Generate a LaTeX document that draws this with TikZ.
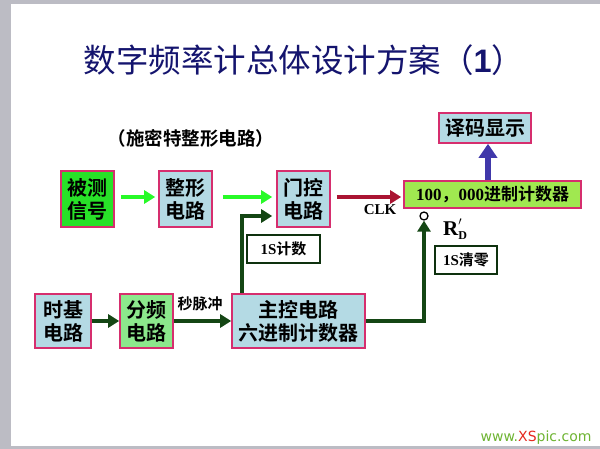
\documentclass[tikz,border=0pt]{standalone}
\usepackage{fontspec}
\setmainfont{Liberation Serif}
\newfontfamily\cjk[BoldFont={Noto Sans CJK SC Bold}]{Noto Sans CJK SC}
\newfontfamily\lsans{Liberation Sans}
\newfontfamily\wsans{DejaVu Sans}
\usetikzlibrary{arrows.meta}
\definecolor{bpink}{RGB}{214,46,110}
\definecolor{lblue}{RGB}{180,218,228}
\definecolor{sgreen}{RGB}{40,225,40}
\definecolor{lgreen}{RGB}{140,232,140}
\definecolor{ygreen}{RGB}{160,232,80}
\definecolor{dgreen}{RGB}{20,70,20}
\definecolor{agreen}{RGB}{40,250,40}
\definecolor{dred}{RGB}{170,20,50}
\definecolor{pblue}{RGB}{64,56,170}
\definecolor{navy}{RGB}{20,20,110}
\definecolor{edge}{RGB}{188,188,196}
\definecolor{wgreen}{RGB}{110,180,50}
\definecolor{wred}{RGB}{230,40,30}
\tikzset{
  blk/.style={draw=bpink, line width=1.6pt, inner sep=0pt, align=center,
    font=\cjk\bfseries\fontsize{20}{23}\selectfont},
  lbox/.style={draw=dgreen!70!black, line width=1.3pt, fill=white, inner sep=0pt, align=center,
    font=\bfseries\fontsize{15}{18}\selectfont},
  garrow/.style={draw=agreen, line width=3.5pt, -{Triangle[length=11pt,width=13pt]}},
  darrow/.style={draw=dgreen, line width=3.5pt, -{Triangle[length=11pt,width=13pt]}},
  rarrow/.style={draw=dred, line width=3.5pt, -{Triangle[length=11pt,width=13pt]}},
  barrow/.style={draw=pblue, line width=6pt, -{Triangle[length=14pt,width=18pt]}},
}
\begin{document}
\begin{tikzpicture}[x=1pt,y=-1pt]
\useasboundingbox (0,0) rectangle (600,449);
\fill[white] (0,0) rectangle (600,449);
\fill[edge] (0,0) rectangle (600,4);
\fill[edge] (0,0) rectangle (11,449);
\fill[edge] (0,446) rectangle (600,449);

\node[text=navy, font=\cjk\fontsize{32.5}{36}\selectfont] (title) at (304,60)
  {数字频率计总体设计方案（{\lsans\bfseries 1}）};
\node[font=\cjk\bfseries\fontsize{18.5}{21}\selectfont] (schmitt) at (191,138) {（施密特整形电路）};

\node[blk, fill=sgreen, minimum width=53pt, minimum height=56pt] (sig) at (87.5,199) {被测\\信号};
\node[blk, fill=lblue, minimum width=53pt, minimum height=56pt] (shape) at (185.5,199) {整形\\电路};
\node[blk, fill=lblue, minimum width=53pt, minimum height=56pt] (gate) at (303.5,199) {门控\\电路};
\node[blk, fill=ygreen, minimum width=177pt, minimum height=27pt,
  font=\bfseries\fontsize{17}{20}\selectfont] (cnt) at (492.5,194.5)
  {100{\cjk，}000{\cjk 进制计数器}};
\node[blk, fill=lblue, minimum width=92pt, minimum height=30pt] (disp) at (485,128) {译码显示};
\node[blk, fill=lblue, minimum width=56pt, minimum height=54pt] (base) at (63,321) {时基\\电路};
\node[blk, fill=lgreen, minimum width=53pt, minimum height=54pt] (div) at (146.5,321) {分频\\电路};
\node[blk, fill=lblue, minimum width=133pt, minimum height=54pt] (main) at (298.5,321) {主控电路\\六进制计数器};
\node[lbox, minimum width=73pt, minimum height=28pt] (cnt1s) at (283.5,249) {1S{\cjk 计数}};
\node[lbox, minimum width=62pt, minimum height=28pt] (clr) at (466,260) {1S{\cjk 清零}};
\node[circle, draw=black, line width=1.3pt, fill=white, inner sep=0pt, minimum size=8pt] (rc) at (424,216) {};

\node[font=\cjk\bfseries\fontsize{15}{18}\selectfont] (pulse) at (200,304) {秒脉冲};
\node[font=\bfseries\fontsize{15}{18}\selectfont] (clk) at (380,210) {CLK};
\node[font=\bfseries\fontsize{21}{24}\selectfont] (rd) at (455,229)
  {R\rlap{\raisebox{4pt}{\fontsize{18}{18}\selectfont$'$}}\raisebox{-4pt}{\fontsize{12}{13}\selectfont D}};

\draw[garrow] ([xshift=6pt,yshift=2pt]sig.east) -- ([xshift=-3pt,yshift=2pt]shape.west);
\draw[garrow] ([xshift=10pt,yshift=2pt]shape.east) -- ([xshift=-4pt,yshift=2pt]gate.west);
\draw[rarrow] ([xshift=6pt,yshift=2pt]gate.east) -- ([xshift=-2pt,yshift=2pt]gate.east -| cnt.west);
\draw[barrow] ([xshift=3pt]disp.south |- cnt.north) -- ([xshift=3pt]disp.south);
\draw[darrow] (base.east) -- (div.west);
\draw[darrow] (div.east) -- (main.west);
\coordinate (mtop) at ([xshift=11pt]main.north west);
\draw[darrow] (mtop) |- ([xshift=-4pt,yshift=-17pt]gate.west);
\draw[darrow] (main.east) -| (rc.south);

\node[font=\wsans\fontsize{14}{16}\selectfont, anchor=east] (wm) at (595,438)
  {\textcolor{wgreen}{www.}\textcolor{wred}{XS}\textcolor{wgreen}{pic.com}};
\end{tikzpicture}
\end{document}
